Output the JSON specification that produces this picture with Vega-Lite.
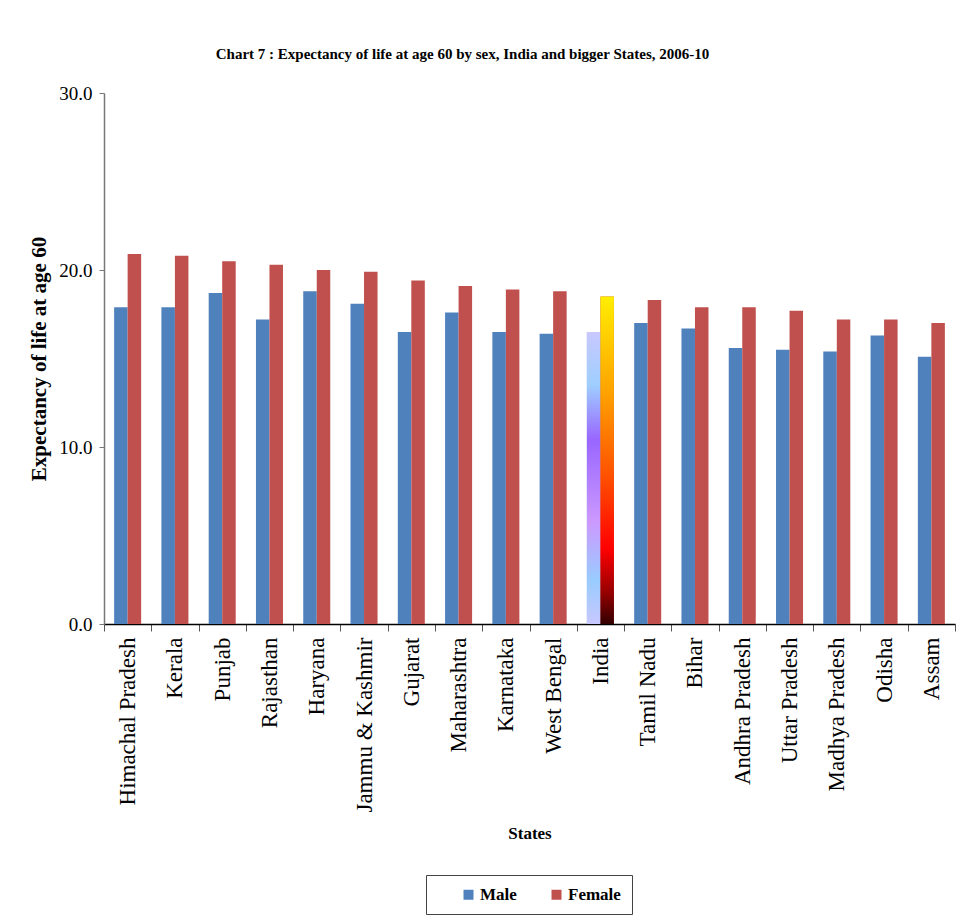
{
  "$schema": "https://vega.github.io/schema/vega-lite/v6.json",
  "width": 851,
  "height": 531,
  "autosize": {"type": "none"},
  "padding": {"left": 104, "top": 93, "right": 2, "bottom": 299},
  "background": "white",
  "title": {
    "text": "Chart 7 : Expectancy of life at age 60 by sex, India and bigger States, 2006-10",
    "font": "Liberation Serif",
    "fontSize": 15,
    "fontWeight": "bold",
    "color": "#000000",
    "anchor": "middle",
    "frame": "group",
    "dx": -67,
    "offset": 22
  },
  "config": {
    "view": {"stroke": null},
    "axis": {"grid": false, "labelFont": "Liberation Serif", "titleFont": "Liberation Serif", "labelColor": "#000", "titleColor": "#000"},
    "legend": {"labelFont": "Liberation Serif", "titleFont": "Liberation Serif"}
  },
  "data": {
    "values": [
      {"State": "Himachal Pradesh", "Sex": "Male", "Value": 17.9},
      {"State": "Himachal Pradesh", "Sex": "Female", "Value": 20.9},
      {"State": "Kerala", "Sex": "Male", "Value": 17.9},
      {"State": "Kerala", "Sex": "Female", "Value": 20.8},
      {"State": "Punjab", "Sex": "Male", "Value": 18.7},
      {"State": "Punjab", "Sex": "Female", "Value": 20.5},
      {"State": "Rajasthan", "Sex": "Male", "Value": 17.2},
      {"State": "Rajasthan", "Sex": "Female", "Value": 20.3},
      {"State": "Haryana", "Sex": "Male", "Value": 18.8},
      {"State": "Haryana", "Sex": "Female", "Value": 20.0},
      {"State": "Jammu & Kashmir", "Sex": "Male", "Value": 18.1},
      {"State": "Jammu & Kashmir", "Sex": "Female", "Value": 19.9},
      {"State": "Gujarat", "Sex": "Male", "Value": 16.5},
      {"State": "Gujarat", "Sex": "Female", "Value": 19.4},
      {"State": "Maharashtra", "Sex": "Male", "Value": 17.6},
      {"State": "Maharashtra", "Sex": "Female", "Value": 19.1},
      {"State": "Karnataka", "Sex": "Male", "Value": 16.5},
      {"State": "Karnataka", "Sex": "Female", "Value": 18.9},
      {"State": "West Bengal", "Sex": "Male", "Value": 16.4},
      {"State": "West Bengal", "Sex": "Female", "Value": 18.8},
      {"State": "India", "Sex": "Male", "Value": 16.5},
      {"State": "India", "Sex": "Female", "Value": 18.5},
      {"State": "Tamil Nadu", "Sex": "Male", "Value": 17.0},
      {"State": "Tamil Nadu", "Sex": "Female", "Value": 18.3},
      {"State": "Bihar", "Sex": "Male", "Value": 16.7},
      {"State": "Bihar", "Sex": "Female", "Value": 17.9},
      {"State": "Andhra Pradesh", "Sex": "Male", "Value": 15.6},
      {"State": "Andhra Pradesh", "Sex": "Female", "Value": 17.9},
      {"State": "Uttar Pradesh", "Sex": "Male", "Value": 15.5},
      {"State": "Uttar Pradesh", "Sex": "Female", "Value": 17.7},
      {"State": "Madhya Pradesh", "Sex": "Male", "Value": 15.4},
      {"State": "Madhya Pradesh", "Sex": "Female", "Value": 17.2},
      {"State": "Odisha", "Sex": "Male", "Value": 16.3},
      {"State": "Odisha", "Sex": "Female", "Value": 17.2},
      {"State": "Assam", "Sex": "Male", "Value": 15.1},
      {"State": "Assam", "Sex": "Female", "Value": 17.0}
    ]
  },
  "encoding": {
    "x": {
      "field": "State",
      "type": "nominal",
      "sort": ["Himachal Pradesh", "Kerala", "Punjab", "Rajasthan", "Haryana", "Jammu & Kashmir", "Gujarat", "Maharashtra", "Karnataka", "West Bengal", "India", "Tamil Nadu", "Bihar", "Andhra Pradesh", "Uttar Pradesh", "Madhya Pradesh", "Odisha", "Assam"],
      "scale": {"paddingInner": 0, "paddingOuter": 0},
      "axis": {
        "title": "States",
        "titleFontSize": 17,
        "titleFontWeight": "bold",
        "titlePadding": 13,
        "labelAngle": -90,
        "labelFontSize": 23,
        "labelPadding": 6,
        "tickBand": "extent",
        "tickSize": 7,
        "tickColor": "#555",
        "domainColor": "#000",
        "domainWidth": 1.5
      }
    },
    "xOffset": {
      "field": "Sex",
      "type": "nominal",
      "sort": ["Male", "Female"],
      "scale": {"paddingInner": 0, "paddingOuter": 0.75}
    },
    "y": {
      "field": "Value",
      "type": "quantitative",
      "scale": {"domain": [0, 30], "nice": false},
      "axis": {
        "title": "Expectancy of life at age 60",
        "titleFontSize": 21,
        "titleFontWeight": "bold",
        "titlePadding": 9,
        "values": [0, 10, 20, 30],
        "format": ".1f",
        "labelFontSize": 19,
        "labelPadding": 7,
        "tickSize": 5,
        "tickColor": "#777",
        "domainColor": "#777",
        "domainWidth": 1.5
      }
    }
  },
  "layer": [
    {
      "mark": {"type": "bar"},
      "encoding": {
        "color": {
          "field": "Sex",
          "type": "nominal",
          "scale": {"domain": ["Male", "Female"], "range": ["#4F81BD", "#C0504D"]},
          "legend": {
            "orient": "none",
            "legendX": 322,
            "legendY": 782,
            "direction": "horizontal",
            "title": "W",
            "titleColor": "rgba(0,0,0,0)",
            "titleOrient": "left",
            "titleFontSize": 17,
            "titlePadding": 6,
            "symbolType": "square",
            "symbolSize": 100,
            "symbolStrokeWidth": 0,
            "labelFontSize": 17,
            "labelFontWeight": "bold",
            "labelColor": "#000",
            "labelExpr": "datum.label == 'Female' ? datum.label + '\u00a0\u00a0\u00a0\u00a0' : datum.label",
            "columnPadding": 31,
            "labelOffset": 3,
            "padding": 11,
            "strokeColor": "#444"
          }
        }
      }
    },
    {
      "transform": [{"filter": "datum.State === 'India' && datum.Sex === 'Male'"}],
      "mark": {
        "type": "bar",
        "color": {
          "gradient": "linear",
          "x1": 0, "y1": 0, "x2": 0, "y2": 1,
          "stops": [
            {"offset": 0, "color": "#c8c8ff"},
            {"offset": 0.18, "color": "#9fcfff"},
            {"offset": 0.37, "color": "#9966ff"},
            {"offset": 0.65, "color": "#cc99ff"},
            {"offset": 0.85, "color": "#99ccff"},
            {"offset": 1, "color": "#c8c8ff"}
          ]
        }
      }
    },
    {
      "transform": [{"filter": "datum.State === 'India' && datum.Sex === 'Female'"}],
      "mark": {
        "type": "bar",
        "color": {
          "gradient": "linear",
          "x1": 0, "y1": 0, "x2": 0, "y2": 1,
          "stops": [
            {"offset": 0, "color": "#ffee00"},
            {"offset": 0.3, "color": "#ffa000"},
            {"offset": 0.55, "color": "#ff5000"},
            {"offset": 0.77, "color": "#ff0000"},
            {"offset": 0.9, "color": "#990000"},
            {"offset": 1, "color": "#330000"}
          ]
        }
      }
    }
  ]
}
